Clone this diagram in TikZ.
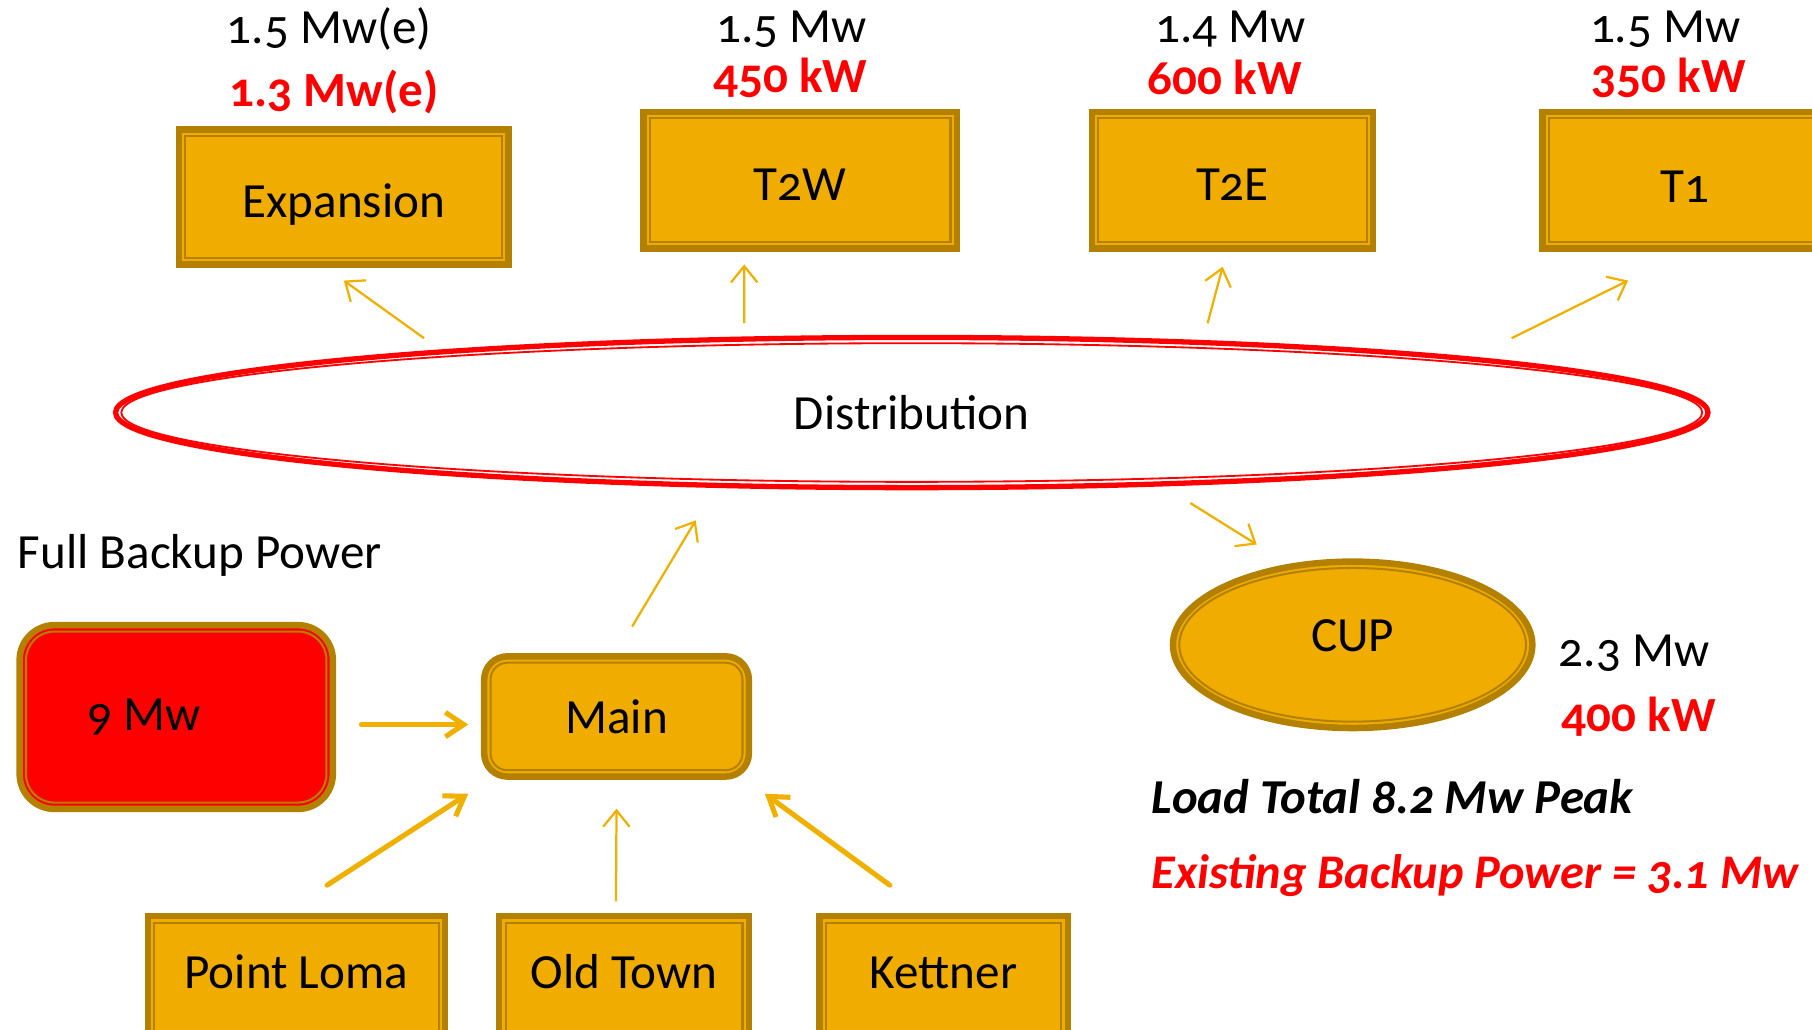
\documentclass[tikz,border=0pt]{standalone}
\usepackage{fontspec}
\setmainfont{Carlito}[Numbers=OldStyle]
\usetikzlibrary{arrows.meta,shapes.geometric,calc}

\definecolor{boxfill}{HTML}{F0AD00}
\definecolor{boxedge}{HTML}{B38000}
\definecolor{arrowgold}{HTML}{F0B000}

\tikzset{
  goldbox/.style={rectangle, fill=boxfill, draw=boxedge, line width=1.6pt, inner sep=0pt,
    path picture={\draw[boxedge, line width=0.5pt]
      ([shift={(0.055,-0.055)}]path picture bounding box.north west) rectangle
      ([shift={(-0.055,0.055)}]path picture bounding box.south east);}},
  roundbox/.style={rectangle, rounded corners=#1, fill=boxfill, draw=boxedge, line width=1.6pt, inner sep=0pt,
    path picture={\draw[boxedge, line width=0.5pt, rounded corners=#1-0.055cm]
      ([shift={(0.055,-0.055)}]path picture bounding box.north west) rectangle
      ([shift={(-0.055,0.055)}]path picture bounding box.south east);}},
  goldoval/.style={ellipse, fill=boxfill, draw=boxedge, line width=1.6pt, inner sep=0pt,
    path picture={\draw[boxedge, line width=0.5pt]
      let \p1=($(path picture bounding box.north east)-(path picture bounding box.center)$) in
      (path picture bounding box.center) ellipse [x radius={\x1-0.055cm}, y radius={\y1-0.055cm}];}},
  redoval/.style={ellipse, draw=red, line width=1.3pt, inner sep=0pt,
    path picture={\draw[red, line width=0.45pt]
      let \p1=($(path picture bounding box.north east)-(path picture bounding box.center)$) in
      (path picture bounding box.center) ellipse [x radius={\x1-0.05cm}, y radius={\y1-0.05cm}];}},
  loadbox/.style={goldbox, text height=0.40cm, text depth=0.05cm},
  mwtext/.style={text=black},
  kwtext/.style={text=red, font=\fontsize{12.1}{14}\selectfont\bfseries},
  thinarrow/.style={arrowgold, line width=0.55pt, -{Straight Barb[length=4pt, width=6.5pt]}},
  thickarrow/.style={arrowgold, line width=1.25pt, line cap=round, -{Straight Barb[length=4.5pt, width=6pt]}},
}

\begin{document}
\begin{tikzpicture}[every node/.style={font=\fontsize{12.1}{14}\selectfont}]
\useasboundingbox (0,1.387) rectangle (15.68,10.30);
\clip (0,1.387) rectangle (15.68,10.30);

% loads
\node[loadbox, minimum width=2.85cm, minimum height=1.17cm] (exp) at (2.975,8.595) {Expansion};
\node[loadbox, minimum width=2.71cm, minimum height=1.18cm] (t2w) at (6.925,8.74) {T2W};
\node[loadbox, minimum width=2.43cm, minimum height=1.18cm] (t2e) at (10.665,8.74) {T2E};
\node[goldbox, minimum width=5cm, minimum height=1.18cm, anchor=west,
  label={[xshift=-1.27cm, yshift=-0.06cm]center:T1}] (t1) at (13.32,8.74) {};

\node[mwtext] (expmw) at (2.85,10.05) {1.5 Mw(e)};
\node[kwtext] (expkw) at (2.89,9.50) {1.3 Mw(e)};
\node[mwtext] (t2wmw) at (6.85,10.05) {1.5 Mw};
\node[kwtext] (t2wkw) at (6.84,9.63) {450 kW};
\node[mwtext] (t2emw) at (10.65,10.05) {1.4 Mw};
\node[kwtext] (t2ekw) at (10.60,9.63) {600 kW};
\node[mwtext] (t1mw) at (14.41,10.05) {1.5 Mw};
\node[kwtext] (t1kw) at (14.44,9.63) {350 kW};

\node[redoval, minimum width=13.78cm, minimum height=1.30cm] (dist) at (7.89,6.73) {Distribution};

\node[goldoval, minimum width=3.11cm, minimum height=1.44cm, text height=0.28cm, text depth=0.16cm] (cup) at (11.705,4.72) {CUP};
\node[mwtext] (cupmw) at (14.14,4.65) {2.3 Mw};
\node[kwtext] (cupkw) at (14.18,4.10) {400 kW};

% sources
\node[anchor=west] (full) at (0.03,5.49) {Full Backup Power};
\node[roundbox=0.3cm, fill=red, minimum width=2.71cm, minimum height=1.59cm,
  label={[xshift=-0.275cm]center:9 Mw}] (backup) at (1.525,4.095) {};
\node[roundbox=0.2cm, minimum width=2.29cm, minimum height=1.04cm] (main) at (5.335,4.10) {Main};

\node[goldbox, anchor=north, minimum width=2.57cm, text height=0.63cm, text depth=2cm] (ploma) at (2.565,2.40) {Point Loma};
\node[goldbox, anchor=north, minimum width=2.16cm, text height=0.63cm, text depth=2cm] (otown) at (5.40,2.40) {Old Town};
\node[goldbox, anchor=north, minimum width=2.15cm, text height=0.63cm, text depth=2cm] (kettner) at (8.165,2.40) {Kettner};

\node[anchor=west, font=\fontsize{12}{14}\selectfont\bfseries\itshape] (load) at (9.84,3.41) {Load Total 8.2 Mw Peak};
\node[anchor=west, text=red, font=\fontsize{11.9}{14}\selectfont\bfseries\itshape] (exist) at (9.84,2.72) {Existing Backup Power = 3.1 Mw};

% connectors
\draw[thinarrow] ([shift={(-4.22,-0.03)}]dist.north) -- ([shift={(0,-0.11)}]exp.south);
\draw[thinarrow] ([shift={(-1.45,0.10)}]dist.north) -- ([shift={(-0.485,-0.11)}]t2w.south);
\draw[thinarrow] ([shift={(2.56,0.10)}]dist.north) -- ([shift={(-0.085,-0.13)}]t2e.south);
\draw[thinarrow] ([shift={(5.19,-0.03)}]dist.north) -- ([shift={(-1.76,-0.25)}]t1.south);
\draw[thinarrow] ([shift={(2.41,-0.11)}]dist.south) -- ([shift={(-0.83,0.12)}]cup.north);
\draw[thinarrow] ([shift={(0.135,0.23)}]main.north) -- ([shift={(-1.87,-0.26)}]dist.south);
\draw[thickarrow] ([shift={(0.22,-0.065)}]backup.east) -- ([shift={(-0.11,-0.07)}]main.west);
\draw[thickarrow] ([shift={(0.265,0.24)}]ploma.north) -- ([shift={(-0.11,-0.12)}]main.south west);
\draw[thinarrow] ([shift={(-0.07,0.10)}]otown.north) -- ([shift={(0,-0.25)}]main.south);
\draw[thickarrow] ([shift={(-0.465,0.24)}]kettner.north) -- ([shift={(0.11,-0.12)}]main.south east);
\end{tikzpicture}
\end{document}
